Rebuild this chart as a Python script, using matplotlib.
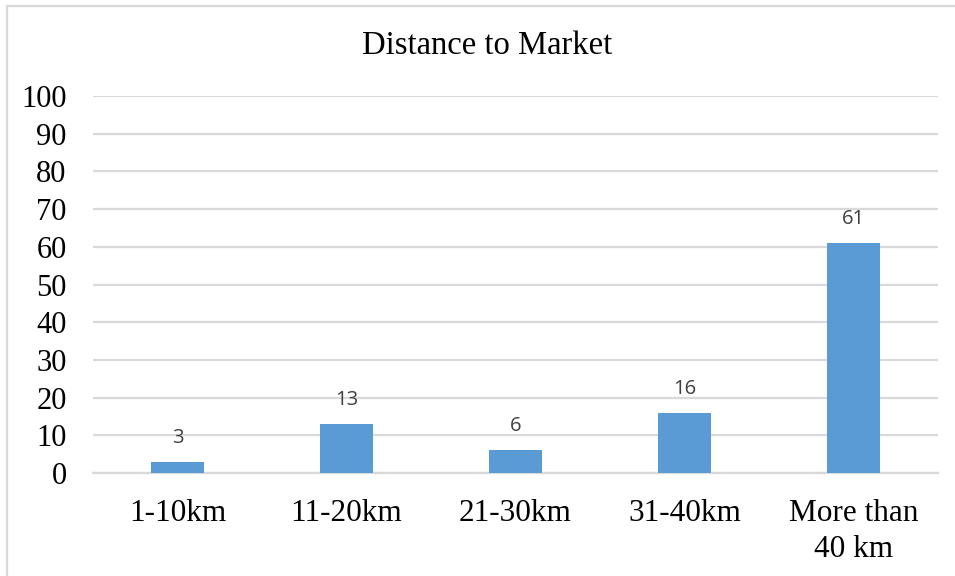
import matplotlib
matplotlib.use("Agg")
import matplotlib.pyplot as plt
from matplotlib.lines import Line2D

categories = ["1-10km", "11-20km", "21-30km", "31-40km", "More than\n40 km"]
values = [3, 13, 6, 16, 61]
yticks = list(range(0, 101, 10))
title = "Distance to Market"

W, H = 955, 576
fig = plt.figure(figsize=(W / 100, H / 100), dpi=100)
fig.patch.set_facecolor("white")

# chart frame (left and top edges visible)
grid_col = "#D9D9D9"
fig.add_artist(Line2D([7 / W, 7 / W], [0, 1 - 6 / H], color=grid_col, lw=1.6))
fig.add_artist(Line2D([7 / W, 1], [1 - 6 / H, 1 - 6 / H], color=grid_col, lw=1.6))

ax = fig.add_axes([93 / W, 103 / H, (938 - 93) / W, (473 - 96) / H])
x = list(range(len(categories)))
bars = ax.bar(x, values, width=0.314, color="#5B9BD5", zorder=3)

ax.set_xlim(-0.5, len(categories) - 0.5)
ax.set_ylim(0, 100)
ax.set_yticks(yticks)
ax.set_yticklabels([str(t) for t in yticks], family="Liberation Serif", fontsize=22)
ax.set_xticks(x)
ax.set_xticklabels(categories, family="Liberation Serif", fontsize=22.5, linespacing=1.3)
ax.tick_params(axis="y", length=0, pad=19)
ax.tick_params(axis="x", length=0, pad=19)
for lab in ax.get_xticklabels():
    lab.set_verticalalignment("top")

ax.grid(axis="y", color=grid_col, lw=1.6, zorder=0)
for s in ["left", "right", "top"]:
    ax.spines[s].set_visible(False)
ax.spines["bottom"].set_color(grid_col)
ax.spines["bottom"].set_linewidth(1.6)
ax.spines["bottom"].set_zorder(2)

for b, v in zip(bars, values):
    ax.annotate(str(v), (b.get_x() + b.get_width() / 2, v),
                xytext=(0, 10), textcoords="offset points",
                ha="center", va="bottom", fontsize=14.5,
                family="Open Sans", color="#404040")

fig.text(487 / W, 1 - 46 / H, title, ha="center", va="center",
         family="Liberation Serif", fontsize=23.5, color="black")

fig.savefig("out.png", dpi=100, facecolor="white")
